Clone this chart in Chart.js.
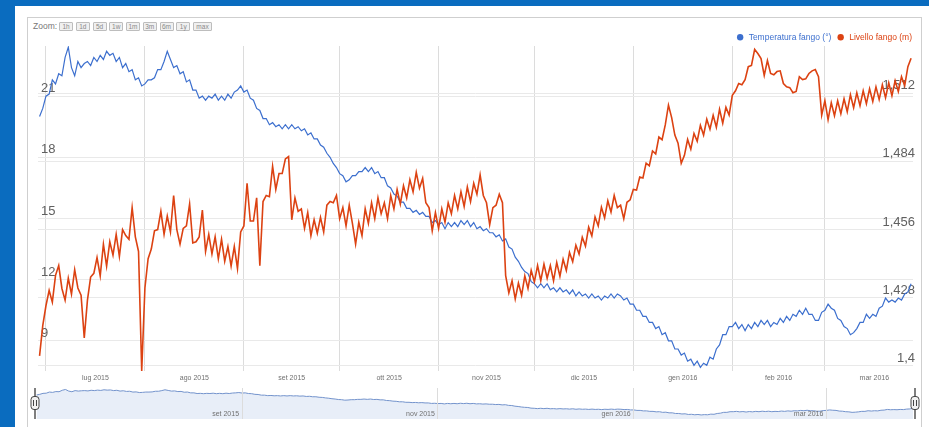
<!DOCTYPE html>
<html>
<head>
<meta charset="utf-8">
<script src="https://cdn.jsdelivr.net/npm/chart.js@4.4.0/dist/chart.umd.min.js"></script>
<style>
  html, body { margin: 0; padding: 0; }
  body {
    width: 929px; height: 427px; overflow: hidden; position: relative;
    background: #0a6cbf;
    font-family: 'Liberation Sans', Arial, sans-serif;
  }
  #panel { position: absolute; left: 15px; top: 6px; width: 920px; height: 430px; background: #fff; }
  #frame { position: absolute; left: 27px; top: 17px; width: 893px; height: 420px; border: 1px solid #cfcfcf; background: #fff; }
  #zoombar { position: absolute; left: 33px; top: 21px; height: 10px; white-space: nowrap; font-size: 8.5px; color: #777; }
  #zoombar .lbl { display: inline-block; width: 26px; line-height: 10px; vertical-align: top; }
  #zoombar .btn {
    display: inline-block; width: 12px; height: 7px; line-height: 7px; margin-right: 2.75px;
    border: 1px solid #bdbdbd; background: #f0f0f0; border-radius: 1px;
    font-size: 6.5px; color: #888; text-align: center; vertical-align: top; margin-top: 1px;
  }
  #zoombar .btn.wide { width: 17px; }
  #main { position: absolute; left: 27px; top: 17px; width: 895px; height: 370px; }
  #nav { position: absolute; left: 27px; top: 386px; width: 895px; height: 35px; }
</style>
</head>
<body>
<div id="panel"></div>
<div id="frame"></div>
<div id="zoombar"><span class="lbl">Zoom:</span><span class="btn">1h</span><span class="btn">1d</span><span class="btn">5d</span><span class="btn">1w</span><span class="btn">1m</span><span class="btn">3m</span><span class="btn">6m</span><span class="btn">1y</span><span class="btn wide">max</span></div>
<div id="main"><canvas id="levelChart"></canvas></div>
<div id="nav"><canvas id="navChart"></canvas></div>
<script>
// days counted from 1 Jul 2015, one reading per day starting 28 Jun 2015
const firstDay = -2;
const monthStarts = [0, 31, 62, 92, 123, 153, 184, 215, 244];
const monthMids = [15.5, 46.5, 77, 107.5, 138, 168.5, 199.5, 229.5, 259.5];
const monthLabels = ['lug 2015', 'ago 2015', 'set 2015', 'ott 2015', 'nov 2015', 'dic 2015', 'gen 2016', 'feb 2016', 'mar 2016'];
const navTicks = [62, 123, 184, 244];
const navLabels = ['set 2015', 'nov 2015', 'gen 2016', 'mar 2016'];
const tempTicks = [9, 12, 15, 18, 21];
const levelTicks = [1.4, 1.428, 1.456, 1.484, 1.512];

const tempValues = [
    20.0, 20.4, 21.0, 21.1, 21.8, 21.6, 22.1, 22.0, 22.9, 23.4, 22.4, 22.0,
    22.7, 22.4, 22.6, 22.7, 22.5, 22.9, 22.7, 23.0, 22.8, 23.2,
    23.0, 23.1, 22.7, 22.9, 22.4, 22.6, 22.2, 22.3, 21.8, 21.9,
    21.5, 21.6, 21.8, 21.8, 21.9, 22.3, 22.3, 22.7, 23.2, 22.8,
    22.4, 22.5, 22.1, 22.2, 21.7, 21.8, 21.3, 21.3, 20.9, 21.0,
    20.8, 21.0, 20.9, 21.1, 20.8, 21.0, 20.8, 21.1, 20.9, 21.2,
    21.3, 21.5, 21.2, 21.3, 20.9, 20.8, 20.4, 20.3, 19.9, 19.9,
    19.6, 19.7, 19.5, 19.6, 19.4, 19.6, 19.4, 19.6, 19.4, 19.5,
    19.3, 19.4, 19.1, 19.2, 18.9, 18.9, 18.6, 18.5, 18.2, 18.0,
    17.7, 17.5, 17.2, 17.1, 16.8, 16.9, 17.1, 17.1, 17.3, 17.3,
    17.5, 17.3, 17.5, 17.2, 17.3, 17.0, 17.0, 16.6, 16.5, 16.2,
    16.1, 15.8, 15.8, 15.5, 15.5, 15.3, 15.4, 15.2, 15.3, 15.1,
    15.1, 14.8, 14.9, 14.7, 14.8, 14.5, 14.8, 14.6, 14.8, 14.6,
    14.9, 14.7, 14.9, 14.6, 14.8, 14.5, 14.6, 14.4, 14.5, 14.3,
    14.3, 14.1, 14.2, 13.9, 14.0, 13.6, 13.5, 13.1, 12.9, 12.6,
    12.4, 12.3, 11.9, 11.8, 11.6, 11.8, 11.6, 11.8, 11.5, 11.6,
    11.4, 11.6, 11.4, 11.5, 11.3, 11.5, 11.2, 11.4, 11.2, 11.3,
    11.1, 11.3, 11.1, 11.2, 11.0, 11.2, 11.1, 11.3, 11.1, 11.3,
    11.2, 11.0, 11.1, 10.8, 10.8, 10.5, 10.5, 10.2, 10.2, 9.9,
    9.9, 9.6, 9.7, 9.3, 9.4, 9.0, 9.0, 8.6, 8.6, 8.3,
    8.4, 8.0, 8.1, 7.8, 8.0, 7.7, 7.9, 7.8, 8.2, 8.1,
    8.6, 8.8, 9.3, 9.3, 9.7, 9.7, 9.9, 9.6, 9.8, 9.5,
    9.8, 9.6, 9.9, 9.7, 10.0, 9.8, 10.0, 9.7, 9.9, 9.8,
    10.1, 9.9, 10.2, 10.0, 10.3, 10.2, 10.5, 10.3, 10.6, 10.3,
    10.3, 10.0, 10.0, 10.4, 10.5, 10.8, 10.6, 10.5, 10.1, 10.0,
    9.7, 9.6, 9.3, 9.4, 9.6, 9.9, 9.9, 10.3, 10.1, 10.3,
    10.2, 10.6, 10.7, 11.1, 10.9, 11.0, 10.9, 11.1, 11.0, 11.3,
    11.4, 11.8
];

const levelValues = [
    1.4041, 1.4165, 1.4247, 1.4310, 1.4262, 1.4372, 1.4412, 1.4318, 1.4270, 1.4360, 1.4295, 1.4395,
    1.4320, 1.4290, 1.4115, 1.4270, 1.4365, 1.4380, 1.4445, 1.4370, 1.4500, 1.4410,
    1.4510, 1.4455, 1.4540, 1.4450, 1.4560, 1.4535, 1.4520, 1.4650, 1.4530, 1.4470,
    1.3979, 1.4320, 1.4440, 1.4480, 1.4555, 1.4560, 1.4635, 1.4540, 1.4615, 1.4550,
    1.4700, 1.4560, 1.4500, 1.4565, 1.4575, 1.4665, 1.4505, 1.4510, 1.4530, 1.4640,
    1.4470, 1.4540, 1.4460, 1.4530, 1.4440, 1.4520, 1.4430, 1.4490, 1.4410, 1.4490,
    1.4400, 1.4550, 1.4575, 1.4750, 1.4595, 1.4595, 1.4690, 1.4412, 1.4675, 1.4700,
    1.4695, 1.4820, 1.4725, 1.4790, 1.4790, 1.4850, 1.4860, 1.4600, 1.4690, 1.4635,
    1.4645, 1.4565, 1.4630, 1.4535, 1.4600, 1.4545, 1.4610, 1.4550, 1.4660, 1.4675,
    1.4670, 1.4700, 1.4605, 1.4650, 1.4575, 1.4660, 1.4585, 1.4500, 1.4590, 1.4535,
    1.4645, 1.4585, 1.4670, 1.4605, 1.4690, 1.4625, 1.4670, 1.4605, 1.4700, 1.4645,
    1.4725, 1.4665, 1.4740, 1.4690, 1.4765, 1.4715, 1.4795, 1.4730, 1.4770, 1.4670,
    1.4650, 1.4555, 1.4630, 1.4565, 1.4645, 1.4590, 1.4670, 1.4625, 1.4700, 1.4645,
    1.4715, 1.4655, 1.4735, 1.4675, 1.4750, 1.4705, 1.4785, 1.4700, 1.4670, 1.4580,
    1.4650, 1.4660, 1.4705, 1.4670, 1.4371, 1.4300, 1.4350, 1.4275, 1.4340, 1.4290,
    1.4370, 1.4318, 1.4392, 1.4345, 1.4412, 1.4350, 1.4418, 1.4360, 1.4412, 1.4350,
    1.4425, 1.4368, 1.4438, 1.4392, 1.4466, 1.4428, 1.4496, 1.4460, 1.4528, 1.4492,
    1.4570, 1.4534, 1.4612, 1.4575, 1.4652, 1.4608, 1.4678, 1.4632, 1.4700, 1.4650,
    1.4660, 1.4605, 1.4672, 1.4682, 1.4725, 1.4722, 1.4776, 1.4772, 1.4833, 1.4822,
    1.4883, 1.4871, 1.4940, 1.4929, 1.4990, 1.5071, 1.5020, 1.4948, 1.4915, 1.4832,
    1.4865, 1.4930, 1.4890, 1.4955, 1.4923, 1.4988, 1.4948, 1.5013, 1.4972, 1.5029,
    1.4980, 1.5054, 1.4997, 1.5062, 1.5030, 1.5111, 1.5130, 1.5160, 1.5155, 1.5176,
    1.5229, 1.5234, 1.5300, 1.5283, 1.5262, 1.5193, 1.5254, 1.5201, 1.5196, 1.5209,
    1.5212, 1.5160, 1.5146, 1.5143, 1.5122, 1.5127, 1.5188, 1.5176, 1.5179, 1.5201,
    1.5212, 1.5217, 1.5188, 1.5030, 1.5089, 1.5011, 1.5081, 1.5028, 1.5089, 1.5036,
    1.5097, 1.5044, 1.5114, 1.5061, 1.5122, 1.5069, 1.5130, 1.5077, 1.5138, 1.5086,
    1.5146, 1.5094, 1.5155, 1.5102, 1.5163, 1.5110, 1.5171, 1.5127, 1.5188, 1.5151,
    1.5229, 1.5264
];

const blue = '#3c6fce';
const red = '#dc4212';
const gridColor = '#e9e9e9';
const vGridColor = '#dcdcdc';
const labelColor = '#606060';
const xMin = -2.49;
const xMax = 271.6;

function toPoints(values) {
    return values.map((v, i) => ({ x: firstDay + i, y: v }));
}

// legend sits closer to the plot than chart.js allows by default
const legendShrink = {
    id: 'legendShrink',
    afterInit(chart) {
        const fit = chart.legend.fit;
        chart.legend.fit = function() {
            fit.call(this);
            this.height -= 5.5;
        };
    }
};

new Chart(document.getElementById('levelChart'), {
    type: 'line',
    data: {
        datasets: [
            {
                label: 'Temperatura fango (°)',
                data: toPoints(tempValues),
                yAxisID: 'y',
                borderColor: blue,
                backgroundColor: blue,
                borderWidth: 1.2,
                pointRadius: 0,
                order: 1
            },
            {
                label: 'Livello fango (m)',
                data: toPoints(levelValues),
                yAxisID: 'y1',
                borderColor: red,
                backgroundColor: red,
                borderWidth: 1.6,
                pointRadius: 0,
                order: 0
            }
        ]
    },
    options: {
        responsive: true,
        maintainAspectRatio: false,
        animation: false,
        layout: { padding: { left: 5, right: 5, top: 11, bottom: 1.6 } },
        scales: {
            x: {
                type: 'linear',
                min: xMin,
                max: xMax,
                afterBuildTicks: axis => {
                    axis.ticks = monthStarts.concat(monthMids).sort((a, b) => a - b).map(v => ({ value: v }));
                },
                ticks: {
                    autoSkip: false,
                    maxRotation: 0,
                    padding: 3,
                    color: '#707070',
                    font: { size: 7, family: "'Liberation Sans', Arial, sans-serif" },
                    callback: value => {
                        const i = monthMids.indexOf(value);
                        return i >= 0 ? monthLabels[i] : '';
                    }
                },
                grid: {
                    drawTicks: false,
                    color: ctx => (ctx.tick && monthStarts.includes(ctx.tick.value)) ? vGridColor : 'rgba(0,0,0,0)'
                },
                border: { display: false }
            },
            y: {
                position: 'left',
                min: 7.52,
                max: 23.46,
                afterBuildTicks: axis => {
                    axis.ticks = tempTicks.map(v => ({ value: v }));
                },
                ticks: {
                    mirror: true,
                    padding: 3,
                    labelOffset: -7.5,
                    color: labelColor,
                    font: { size: 13, family: "'Liberation Sans', Arial, sans-serif" }
                },
                grid: { drawTicks: false, color: gridColor },
                border: { display: false }
            },
            y1: {
                position: 'right',
                min: 1.3979,
                max: 1.5314,
                afterBuildTicks: axis => {
                    axis.ticks = levelTicks.map(v => ({ value: v }));
                },
                ticks: {
                    mirror: true,
                    padding: 2,
                    labelOffset: -7.5,
                    color: labelColor,
                    font: { size: 13, family: "'Liberation Sans', Arial, sans-serif" },
                    callback: value => String(value).replace('.', ',')
                },
                grid: { drawTicks: false, color: gridColor },
                border: { display: false }
            }
        },
        plugins: {
            legend: {
                position: 'top',
                align: 'end',
                labels: {
                    usePointStyle: true,
                    boxHeight: 4.5,
                    padding: 5,
                    font: { size: 8.5, family: "'Liberation Sans', Arial, sans-serif" },
                    generateLabels: chart => chart.data.datasets.map((ds, i) => ({
                        text: ds.label,
                        fillStyle: ds.borderColor,
                        strokeStyle: ds.borderColor,
                        fontColor: ds.borderColor,
                        lineWidth: 0,
                        pointStyle: 'circle',
                        hidden: false,
                        datasetIndex: i
                    }))
                }
            },
            tooltip: { enabled: false }
        }
    },
    plugins: [legendShrink]
});

// navigator handles at both ends of the selected range
const navHandles = {
    id: 'navHandles',
    afterDraw(chart) {
        const { ctx, chartArea, scales: { x } } = chart;
        const cy = (chartArea.top + chartArea.bottom) / 2;
        [x.getPixelForValue(x.min), x.getPixelForValue(x.max)].forEach(px => {
            ctx.save();
            ctx.strokeStyle = '#555';
            ctx.lineWidth = 1.5;
            ctx.beginPath();
            ctx.moveTo(px, chartArea.top);
            ctx.lineTo(px, chartArea.bottom);
            ctx.stroke();
            ctx.fillStyle = '#f2f2f2';
            ctx.strokeStyle = '#444';
            ctx.lineWidth = 1;
            ctx.beginPath();
            if (ctx.roundRect) ctx.roundRect(px - 4, cy - 7, 8, 13, 3);
            else ctx.rect(px - 4, cy - 7, 8, 13);
            ctx.fill();
            ctx.stroke();
            ctx.beginPath();
            ctx.moveTo(px - 1.5, cy - 3.5); ctx.lineTo(px - 1.5, cy + 2.5);
            ctx.moveTo(px + 1.5, cy - 3.5); ctx.lineTo(px + 1.5, cy + 2.5);
            ctx.stroke();
            ctx.restore();
        });
    }
};

new Chart(document.getElementById('navChart'), {
    type: 'line',
    data: {
        datasets: [{
            data: toPoints(tempValues),
            borderColor: '#7393cc',
            backgroundColor: '#e8eef8',
            borderWidth: 1,
            pointRadius: 0,
            fill: 'start'
        }]
    },
    options: {
        responsive: true,
        maintainAspectRatio: false,
        animation: false,
        layout: { padding: { left: 8, right: 7, top: 2, bottom: 2 } },
        scales: {
            x: {
                type: 'linear',
                min: xMin,
                max: xMax,
                afterBuildTicks: axis => {
                    axis.ticks = navTicks.map(v => ({ value: v }));
                },
                ticks: {
                    z: 1,
                    autoSkip: false,
                    maxRotation: 0,
                    align: 'end',
                    padding: -9,
                    labelOffset: -3,
                    color: '#707070',
                    font: { size: 7, family: "'Liberation Sans', Arial, sans-serif" },
                    callback: (value, i) => navLabels[i]
                },
                grid: { z: 1, drawTicks: false, color: vGridColor },
                border: { display: false }
            },
            y: {
                display: false,
                min: 5.2,
                max: 24.3
            }
        },
        plugins: {
            legend: { display: false },
            tooltip: { enabled: false }
        }
    },
    plugins: [navHandles]
});
</script>
</body>
</html>
